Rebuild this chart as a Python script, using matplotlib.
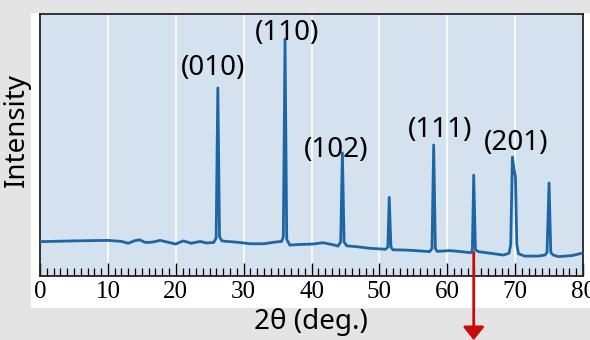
import matplotlib
matplotlib.use("Agg")
import matplotlib.pyplot as plt
from matplotlib.patches import Rectangle
from matplotlib.ticker import MultipleLocator

# XRD pattern (2theta in degrees, intensity in 0-100 of axis height)
two_theta = [0, 5, 10, 12, 13, 14, 14.7, 15.5, 16.5, 17.7, 19, 20, 21.1, 22.3, 23.6,
             24.5, 25.6, 25.95, 26.2, 26.45, 26.8, 27.5, 29, 31, 33, 34.5, 35.6, 35.85,
             36.1, 36.35, 36.8, 38, 40.2, 41.7, 43.4, 43.9, 44.3, 44.55, 44.8, 45.2,
             46.6, 48.5, 50.9, 51.25, 51.45, 51.7, 52.0, 53.9, 56.4, 57.4, 57.75, 58.0,
             58.25, 58.5, 60.4, 62.4, 63.5, 63.7, 63.9, 64.15, 64.6, 66.3, 68.3, 69.1,
             69.35, 69.6, 69.85, 70.05, 70.25, 70.5, 71.4, 73.4, 74.4, 74.7, 75.0, 75.25,
             75.6, 76.4, 78.4, 80]
intensity = [13.1, 13.4, 13.6, 13.2, 12.5, 13.5, 13.8, 12.8, 12.9, 13.6, 12.8, 12.2, 13.4,
             12.5, 13.2, 12.6, 12.8, 14.5, 71.8, 15, 13.4, 13.2, 12.9, 12.3, 12.3, 12.9,
             13.2, 15, 90.4, 14, 11.8, 12, 12.2, 12.7, 11.8, 11.4, 13, 47, 13, 11.5,
             11.2, 10.6, 10.2, 11, 30, 11, 10, 9.9, 9.5, 9.3, 10.5, 50, 10.5, 9.4, 9.7,
             9.2, 8.9, 10, 38.5, 10, 9.3, 8.7, 8.0, 8.7, 12, 45.4, 40.5, 37.8, 12, 8.5,
             7.6, 7.6, 8.0, 9, 35.5, 9, 8.0, 7.4, 7.8, 8.8]

peak_labels = ["(010)", "(110)", "(102)", "(111)", "(201)"]
label_x = [25.5, 36.4, 43.7, 58.9, 70.2]
label_y = [79.2, 92.7, 48.1, 55.7, 50.8]

arrow_x = 63.9
x_ticks = [0, 10, 20, 30, 40, 50, 60, 70, 80]

SANS = ["Noto Sans", "DejaVu Sans"]
SERIF = ["Liberation Serif", "DejaVu Serif"]

fig = plt.figure(figsize=(5.9, 3.4), dpi=100, facecolor="#e4e4e4")

# white panel behind the plot
fig.patches.append(Rectangle((31 / 590, 32 / 340), 559 / 590, 295 / 340,
                             transform=fig.transFigure, facecolor="white",
                             edgecolor="none", zorder=-5))

ax = fig.add_axes([40 / 590, 64 / 340, 543 / 590, 262 / 340])
ax.set_zorder(2)
ax.set_facecolor("#d4e1ee")
ax.set_xlim(0, 80)
ax.set_ylim(0, 100)

for gx in x_ticks[1:-1]:
    ax.axvline(gx, color="white", lw=1.2, zorder=1)

ax.plot(two_theta, intensity, color="#1d66a3", lw=2.0, zorder=3,
        solid_joinstyle="round")

for txt, lx, ly in zip(peak_labels, label_x, label_y):
    ax.text(lx, ly, txt, ha="center", va="center", fontsize=20,
            family=SANS, zorder=4, clip_on=False)

ax.set_xticks(x_ticks)
ax.set_xticklabels([str(t) for t in x_ticks], family=SERIF, fontsize=18)
ax.xaxis.set_minor_locator(MultipleLocator(1))
ax.tick_params(axis="x", which="major", direction="in", length=9.5, width=1,
               pad=3.5, colors="black")
ax.tick_params(axis="x", which="minor", direction="in", length=5.5, width=0.9)
ax.set_yticks([])
for sp in ax.spines.values():
    sp.set_linewidth(1.3)
    sp.set_color("#222222")

fig.text(311 / 590, 1 - 322 / 340, "2θ (deg.)", ha="center", va="center",
         fontsize=20, family=SANS)
fig.text(17 / 590, 1 - 130 / 340, "Intensity", ha="center", va="center",
         rotation=90, fontsize=20, family=SANS)

ax.annotate("", xy=(arrow_x, -24.5), xytext=(arrow_x, 9.0),
            arrowprops=dict(arrowstyle="-|>,head_length=0.4,head_width=0.32",
                            mutation_scale=20, color="#cc0a0a", lw=2,
                            shrinkA=0, shrinkB=0),
            annotation_clip=False, zorder=5)

fig.savefig("out.png", dpi=100, facecolor=fig.get_facecolor())
